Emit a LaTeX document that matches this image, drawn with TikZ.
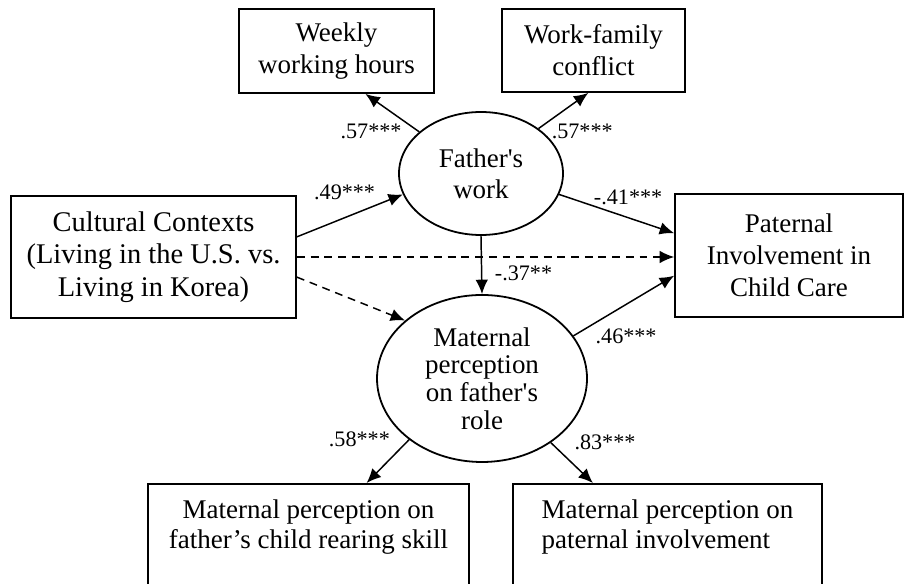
\documentclass[tikz,border=0pt]{standalone}
\usepackage{fontspec}
\setmainfont{Liberation Serif}
\usetikzlibrary{positioning,arrows.meta,calc,shapes}
\tikzset{
    observed/.style = {
        draw,
        shape=rectangle,
        line width=1.7pt,
        align=center,
        font=\fontsize{25.6}{30.5}\selectfont
    },
    latent/.style = {
        draw,
        shape=ellipse,
        line width=1.7pt,
        inner sep=0pt,
        align=center,
        font=\fontsize{25.6}{29.5}\selectfont
    },
    indicator/.style = {
        observed,
        anchor=north,
        inner ysep=0.53cm,
        text depth=1.8cm,
        font=\fontsize{25.6}{28.5}\selectfont
    },
    nonsig/.style = {
        dash pattern=on 7.5pt off 5.5pt
    },
    coef/.style = {
        font=\fontsize{21}{25}\selectfont
    },
    >={Latex[length=4.8mm,width=4.2mm]},
}
\begin{document}
\begin{tikzpicture}[line width=1.4pt]
            \useasboundingbox (0,0) rectangle (30.1667,19.4333);

            \node[observed, minimum width=6.5cm, minimum height=2.8cm] (wkhours) at (11.217,17.733) {Weekly\\working hours};
            \node[observed, minimum width=6.1cm, minimum height=2.767cm] (wfconf) at (19.783,17.75) {Work-family\\conflict};
            \node[latent, minimum width=5.467cm, minimum height=4.1cm] (fwork) at (16.033,13.65) {Father\textquotesingle s\\work};
            \node[observed, minimum width=9.5cm, minimum height=4.067cm, font=\fontsize{27}{31}\selectfont] (culture) at (5.117,10.867) {Cultural Contexts\\(Living in the U.S. vs.\\Living in Korea)};
            \node[observed, minimum width=7.6cm, minimum height=4.1cm] (pinvolve) at (26.3,10.917) {Paternal\\Involvement in\\Child Care};
            \node[latent, minimum width=7cm, minimum height=5.567cm, font=\fontsize{25.6}{26.3}\selectfont] (mrole) at (16.067,6.817) {Maternal\\perception\\on father\textquotesingle s\\role};
            \node[indicator, minimum width=10.7cm] (mskill) at (10.283,3.333) {Maternal perception on\\father’s child rearing skill};
            \node[indicator, minimum width=10.3cm, align=left] (mpinv) at (22.25,3.333) {Maternal perception on\\paternal involvement};

            \path[draw, ->] (fwork.146) -- (wkhours.-56) node [at start, left=0.45cm, coef] {.57***};
            \path[draw, ->] (fwork.38) -- (wfconf.-97) node [at start, right=0.3cm, yshift=-3pt, coef] {.57***};

            \path[draw, ->] (culture.8) -- (fwork.195) node [pos=0.45, above=0.45cm, coef] {.49***};
            \path[draw, ->] (fwork.-15) -- (pinvolve.169) node [pos=0.6, above=0.3cm, coef] {-.41***};

            \path[draw, ->, nonsig] (culture.east) -- (culture.east -| pinvolve.west);
            \path[draw, ->, nonsig] (culture.-8) -- (mrole.143);

            \path[draw, ->] (fwork.south) -- (mrole.north) node [pos=0.65, right=0.3cm, coef] {-.37**};
            \path[draw, ->] (mrole.25) -- (pinvolve.190) node [at start, right=0.6cm, coef] {.46***};

            \path[draw, ->] (mrole.220) -- ($(mskill.north)!0.36!(mskill.north east)$) node [at start, left=0.5cm, coef] {.58***};
            \path[draw, ->] (mrole.-43) -- ($(mpinv.north)!0.48!(mpinv.north west)$) node [at start, right=0.65cm, coef] {.83***};

        \end{tikzpicture}
\end{document}
